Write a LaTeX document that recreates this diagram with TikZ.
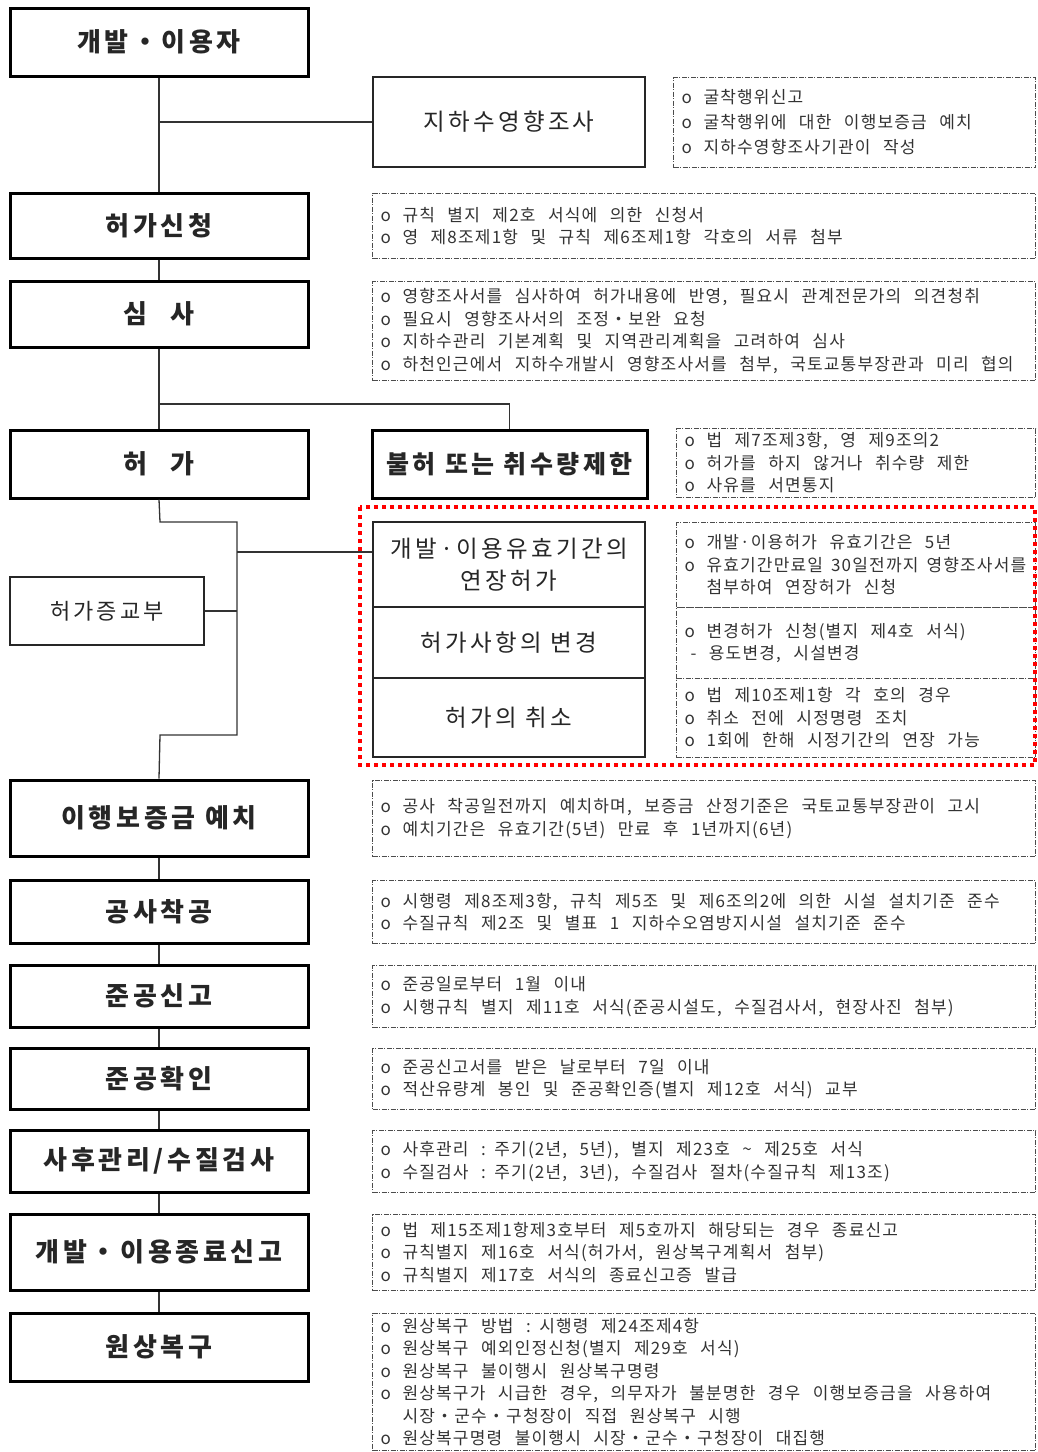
\documentclass[tikz,border=0pt]{standalone}
\usepackage{fontspec}
\setmainfont{Noto Sans CJK KR}
\newfontfamily\titlefont[LetterSpace=14]{Noto Sans CJK KR}
\newfontfamily\midfont[LetterSpace=14]{Noto Sans CJK KR}
\newfontfamily\detfont[LetterSpace=7]{Noto Sans CJK KR}
\newcommand\bl[1]{\mbox{\spaceskip=12.5pt\relax\makebox[22pt][l]{o}#1}}
\newcommand\cl[1]{\mbox{\spaceskip=12.5pt\relax\hspace*{22pt}#1}}
\tikzset{
 mainbox/.style={draw=black, line width=3pt, inner sep=0pt, font=\titlefont\bfseries\fontsize{26}{30}\selectfont, text=black!85},
 midbox/.style={draw=black!85, line width=1.3pt, inner sep=0pt, align=center, font=\midfont\fontsize{23.5}{32}\selectfont, text=black!85},
 detbox/.style={draw=black!70, line width=1pt, dash pattern=on 5pt off 1.5pt on 1pt off 1.5pt, inner xsep=8pt, inner ysep=0pt, anchor=north west, align=left, font=\detfont\fontsize{17}{22.5}\selectfont, text=black!80},
 conn/.style={draw=black!80, line width=1.3pt},
 redframe/.style={draw=red, line width=3.5pt, dash pattern=on 4pt off 4pt}
}
\begin{document}
\begin{tikzpicture}[x=1pt,y=-1pt]
\useasboundingbox (0,0) rectangle (1037,1452);
% main boxes
\node[mainbox, minimum width=298pt, minimum height=68pt] (A) at (159,42) {개발・이용자};
\node[mainbox, minimum width=298pt, minimum height=65pt] (B) at (159,225.5) {허가신청};
\node[mainbox, minimum width=298pt, minimum height=66pt] (C) at (159,314) {심\hspace{24pt}사};
\node[mainbox, minimum width=298pt, minimum height=68pt] (D) at (159,464) {허\hspace{24pt}가};
\node[mainbox, minimum width=298pt, minimum height=76pt] (E) at (159,818) {이행보증금 예치};
\node[mainbox, minimum width=298pt, minimum height=63pt] (F) at (159,911.5) {공사착공};
\node[mainbox, minimum width=298pt, minimum height=62pt] (G) at (159,996) {준공신고};
\node[mainbox, minimum width=298pt, minimum height=61pt] (H) at (159,1078.5) {준공확인};
\node[mainbox, minimum width=298pt, minimum height=62pt] (I) at (159,1161) {사후관리/수질검사};
\node[mainbox, minimum width=298pt, minimum height=76pt] (J) at (159,1252) {개발・이용종료신고};
\node[mainbox, minimum width=298pt, minimum height=68pt] (K) at (159,1347) {원상복구};
% middle boxes
\node[midbox, minimum width=272pt, minimum height=90pt] (S) at (509,122) {지하수영향조사};
\node[midbox, draw=black, line width=3pt, minimum width=275pt, minimum height=68pt, font=\midfont\bfseries\fontsize{25}{30}\selectfont] (N) at (509.5,464) {불허 또는 취수량제한};
\node[midbox, minimum width=194pt, minimum height=68pt, font=\midfont\fontsize{22}{30}\selectfont] (P) at (107,611) {허가증교부};
\node[midbox, minimum width=272pt, minimum height=85pt] (m1) at (509,564.5) {개발·이용유효기간의\\연장허가};
\node[midbox, minimum width=272pt, minimum height=71pt] (m2) at (509,642.5) {허가사항의 변경};
\node[midbox, minimum width=272pt, minimum height=79pt] (m3) at (509,717.5) {허가의 취소};
% detail boxes
\node[detbox, text width=346pt, minimum height=90pt, font=\detfont\fontsize{17}{25}\selectfont] (d1) at (673,77) {\bl{굴착행위신고}\\\bl{굴착행위에 대한 이행보증금 예치}\\\bl{지하수영향조사기관이 작성}};
\node[detbox, text width=647pt, minimum height=65pt] (d2) at (372,193) {\bl{규칙 별지 제2호 서식에 의한 신청서}\\\bl{영 제8조제1항 및 규칙 제6조제1항 각호의 서류 첨부}};
\node[detbox, text width=647pt, minimum height=99pt] (d3) at (372,281) {\bl{영향조사서를 심사하여 허가내용에 반영, 필요시 관계전문가의 의견청취}\\\bl{필요시 영향조사서의 조정・보완 요청}\\\bl{지하수관리 기본계획 및 지역관리계획을 고려하여 심사}\\\bl{하천인근에서 지하수개발시 영향조사서를 첨부, 국토교통부장관과 미리 협의}};
\node[detbox, text width=343pt, minimum height=69pt] (d4) at (676,428) {\bl{법 제7조제3항, 영 제9조의2}\\\bl{허가를 하지 않거나 취수량 제한}\\\bl{사유를 서면통지}};
\node[detbox, text width=343pt, minimum height=85pt] (d5a) at (676,522) {\bl{개발·이용허가 유효기간은 5년}\\\mbox{\spaceskip=8pt\relax\makebox[22pt][l]{o}유효기간만료일 30일전까지 영향조사서를}\\\cl{첨부하여 연장허가 신청}};
\node[detbox, text width=343pt, minimum height=71pt] (d5b) at (676,607) {\bl{변경허가 신청(별지 제4호 서식)}\\\mbox{\spaceskip=12.5pt\relax\hspace*{6pt}- 용도변경, 시설변경}};
\node[detbox, text width=343pt, minimum height=79pt] (d5c) at (676,678) {\bl{법 제10조제1항 각 호의 경우}\\\bl{취소 전에 시정명령 조치}\\\bl{1회에 한해 시정기간의 연장 가능}};
\node[detbox, text width=647pt, minimum height=76pt] (d6) at (372,780) {\bl{공사 착공일전까지 예치하며, 보증금 산정기준은 국토교통부장관이 고시}\\\bl{예치기간은 유효기간(5년) 만료 후 1년까지(6년)}};
\node[detbox, text width=647pt, minimum height=63pt] (d7) at (372,880) {\bl{시행령 제8조제3항, 규칙 제5조 및 제6조의2에 의한 시설 설치기준 준수}\\\bl{수질규칙 제2조 및 별표 1 지하수오염방지시설 설치기준 준수}};
\node[detbox, text width=647pt, minimum height=62pt] (d8) at (372,965) {\bl{준공일로부터 1월 이내}\\\bl{시행규칙 별지 제11호 서식(준공시설도, 수질검사서, 현장사진 첨부)}};
\node[detbox, text width=647pt, minimum height=61pt] (d9) at (372,1048) {\bl{준공신고서를 받은 날로부터 7일 이내}\\\bl{적산유량계 봉인 및 준공확인증(별지 제12호 서식) 교부}};
\node[detbox, text width=647pt, minimum height=62pt] (d10) at (372,1130) {\bl{사후관리 : 주기(2년, 5년), 별지 제23호 \textasciitilde{} 제25호 서식}\\\bl{수질검사 : 주기(2년, 3년), 수질검사 절차(수질규칙 제13조)}};
\node[detbox, text width=647pt, minimum height=76pt] (d11) at (372,1214) {\bl{법 제15조제1항제3호부터 제5호까지 해당되는 경우 종료신고}\\\bl{규칙별지 제16호 서식(허가서, 원상복구계획서 첨부)}\\\bl{규칙별지 제17호 서식의 종료신고증 발급}};
\node[detbox, text width=647pt, minimum height=137pt] (d12) at (372,1313) {\bl{원상복구 방법 : 시행령 제24조제4항}\\\bl{원상복구 예외인정신청(별지 제29호 서식)}\\\bl{원상복구 불이행시 원상복구명령}\\\bl{원상복구가 시급한 경우, 의무자가 불분명한 경우 이행보증금을 사용하여}\\\cl{시장・군수・구청장이 직접 원상복구 시행}\\\bl{원상복구명령 불이행시 시장・군수・구청장이 대집행}};
% red frame
\draw[redframe] (360,507) rectangle (1035,765);
% connectors
\draw[conn] (A.south) -- (B.north);
\draw[conn] (A.south |- S.west) -- (S.west);
\draw[conn] (B.south) -- (C.north);
\draw[conn] (C.south) -- (D.north);
\coordinate (br) at (160,404);
\draw[conn] (br) -| (N.north);
\coordinate (t1) at (160,522);
\coordinate (t2) at (237,522);
\coordinate (t3) at (237,735);
\coordinate (t4) at (160,735);
\coordinate (t5) at (237,552);
\draw[conn] (D.south) -- (t1) -- (t2) -- (t3) -- (t4) -- (E.north);
\draw[conn] (t5) -- (t5 -| m1.west);
\draw[conn] (P.east) -- (P.east -| t2);
\draw[conn] (E.south) -- (F.north);
\draw[conn] (F.south) -- (G.north);
\draw[conn] (G.south) -- (H.north);
\draw[conn] (H.south) -- (I.north);
\draw[conn] (I.south) -- (J.north);
\draw[conn] (J.south) -- (K.north);
\end{tikzpicture}
\end{document}
